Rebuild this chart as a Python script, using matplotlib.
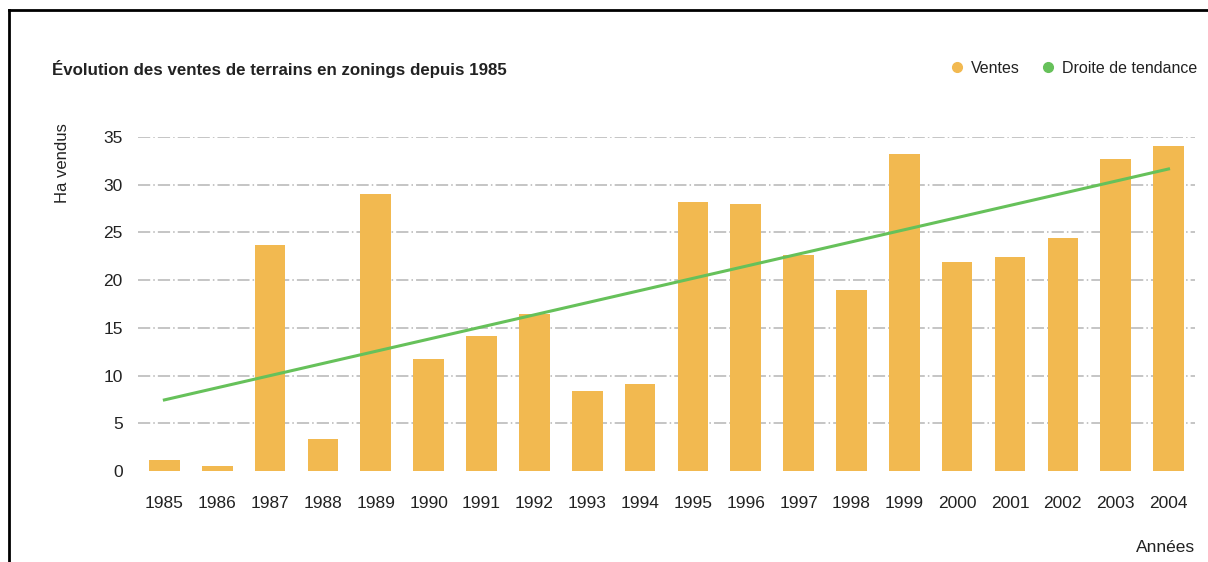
import matplotlib.pyplot as plt
from matplotlib.lines import Line2D

# data
years = ["1985", "1986", "1987", "1988", "1989", "1990", "1991", "1992", "1993", "1994",
         "1995", "1996", "1997", "1998", "1999", "2000", "2001", "2002", "2003", "2004"]
ventes = [1.2, 0.5, 23.7, 3.4, 29.0, 11.7, 14.2, 16.5, 8.4, 9.1,
          28.2, 28.0, 22.6, 19.0, 33.2, 21.9, 22.4, 24.4, 32.7, 34.1]
trend_years = ["1985", "2004"]
trend_values = [7.45, 31.65]
y_ticks = [0, 5, 10, 15, 20, 25, 30, 35]

bar_color = "#F2B950"
line_color = "#66C15A"
text_color = "#222222"

plt.rcParams["font.family"] = ["Liberation Sans Narrow", "Liberation Sans", "DejaVu Sans"]

fig = plt.figure(figsize=(12.08, 5.62), dpi=100)
ax = fig.add_axes([0.1142, 0.1619, 0.875, 0.5943])

x = list(range(len(years)))
ax.bar(x, ventes, width=0.58, color=bar_color, zorder=2)
trend_x = [years.index(t) for t in trend_years]
ax.plot(trend_x, trend_values, color=line_color, linewidth=2.2, zorder=3)

ax.set_xlim(-0.5, len(years) - 0.5)
ax.set_ylim(0, 35)
ax.set_yticks(y_ticks)
ax.set_xticks(x)
ax.set_xticklabels(years)
ax.tick_params(axis="both", length=0, labelsize=12.5, colors=text_color)
ax.tick_params(axis="x", pad=18)
ax.tick_params(axis="y", pad=11)
for s in ax.spines.values():
    s.set_visible(False)

# dash-dot gridlines (not at 0)
for v in y_ticks[1:]:
    ax.axhline(v, color="#b5b5b5", linewidth=1.1, linestyle=(0, (8, 2, 1, 2)), zorder=1)

fig.text(0.043, 0.878, "Évolution des ventes de terrains en zonings depuis 1985",
         fontsize=12.2, fontweight="bold", color=text_color, va="center", ha="left")
fig.text(0.052, 0.71, "Ha vendus", rotation=90, fontsize=12, color=text_color,
         va="center", ha="center")
fig.text(0.989, 0.025, "Années", fontsize=12.5, color=text_color, ha="right", va="center")

handles = [
    Line2D([], [], marker="o", linestyle="", color=bar_color, markersize=7),
    Line2D([], [], marker="o", linestyle="", color=line_color, markersize=7),
]
fig.legend(handles, ["Ventes", "Droite de tendance"], loc="center right",
           bbox_to_anchor=(1.003, 0.878), ncol=2, frameon=False, fontsize=11.5,
           handletextpad=0.35, columnspacing=1.3, handlelength=1.0, labelcolor=text_color)

# partial frame: top and left edges
fig.add_artist(Line2D([9 / 1208, 1.0], [1 - 10 / 562] * 2, color="black", linewidth=2))
fig.add_artist(Line2D([9 / 1208] * 2, [0, 1 - 10 / 562], color="black", linewidth=2))

fig.savefig("out.png", dpi=100)
